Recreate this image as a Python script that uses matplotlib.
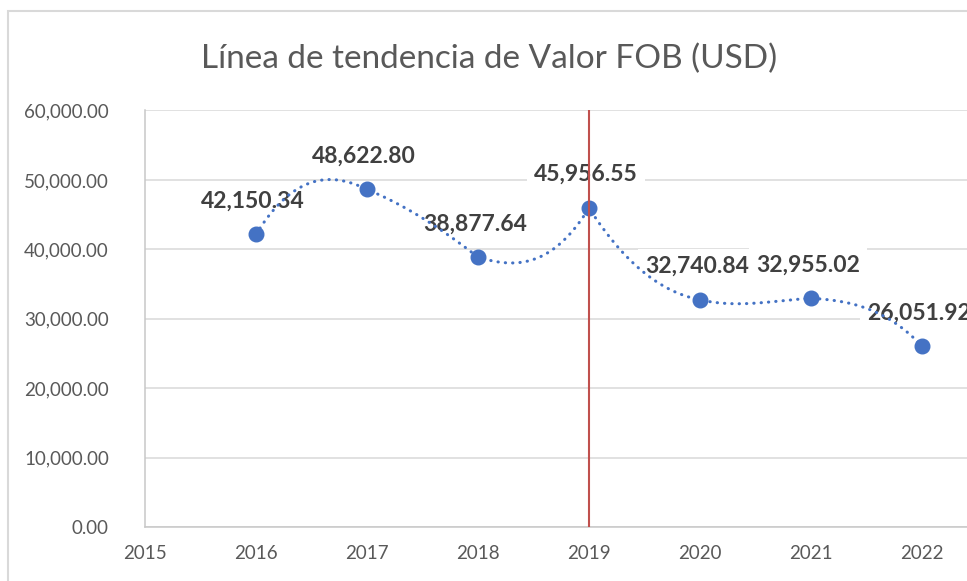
import matplotlib.pyplot as plt
import numpy as np
from matplotlib.patches import Rectangle
from matplotlib.ticker import FuncFormatter

# data
years = [2016, 2017, 2018, 2019, 2020, 2021, 2022]
fob_usd = [42150.34, 48622.80, 38877.64, 45956.55, 32740.84, 32955.02, 26051.92]
x_ticks = [2015, 2016, 2017, 2018, 2019, 2020, 2021, 2022]
y_ticks = [0, 10000, 20000, 30000, 40000, 50000, 60000]
marker_year = 2019
title = "Línea de tendencia de Valor FOB (USD)"

# slopes (USD per year) of the smoothed trend curve on each side of a point,
# estimated from the reference
slope_in = [np.nan, -8000, -12500, 26000, -3000, 1000, -17000]
slope_out = [26000, -6500, -5000, -25000, -3800, -1000, np.nan]

BLUE = '#4472C4'
GRAY_TXT = '#595959'
GRID = '#D9D9D9'


def smooth_curve(xs, ys, m_out, m_in, n=80):
    # cubic hermite between consecutive points
    cx, cy = [], []
    for i in range(len(xs) - 1):
        h = xs[i + 1] - xs[i]
        t = np.linspace(0, 1, n)
        h00 = 2 * t**3 - 3 * t**2 + 1
        h10 = t**3 - 2 * t**2 + t
        h01 = -2 * t**3 + 3 * t**2
        h11 = t**3 - t**2
        y = h00 * ys[i] + h10 * h * m_out[i] + h01 * ys[i + 1] + h11 * h * m_in[i + 1]
        cx.extend(xs[i] + t * h)
        cy.extend(y)
    return np.array(cx), np.array(cy)


plt.rcParams['font.family'] = ['Lato', 'DejaVu Sans']

fig = plt.figure(figsize=(9.67, 5.81), dpi=100)
ax = fig.add_axes([145 / 967, 54 / 581, 822 / 967, 416.5 / 581])

# outer chart border
fig.add_artist(Rectangle((8 / 967, -0.2), 1.2, 1.2 - 11 / 581, transform=fig.transFigure,
                         fill=False, edgecolor=GRID, linewidth=1.5))

fig.text(0.5062, 1 - 59 / 581, title, ha='center', va='center', fontsize=24, color=GRAY_TXT)

ax.set_xlim(2015, 2015 + 822 / 111)
ax.set_ylim(0, 60000)
ax.set_xticks(x_ticks)
ax.set_yticks(y_ticks)
ax.yaxis.set_major_formatter(FuncFormatter(lambda v, p: f"{v:,.2f}"))
ax.tick_params(length=0, labelsize=13.5, labelcolor=GRAY_TXT)
ax.tick_params(axis='y', pad=26)
ax.tick_params(axis='x', pad=13)
ax.grid(axis='y', color=GRID, linewidth=1.1, zorder=0)
ax.set_axisbelow(True)
for side in ['top', 'right']:
    ax.spines[side].set_visible(False)
ax.spines['left'].set_color('#C8C8C8')
ax.spines['bottom'].set_color('#C8C8C8')
ax.spines['left'].set_linewidth(1.1)
ax.spines['bottom'].set_linewidth(1.1)

cx, cy = smooth_curve(years, fob_usd, slope_out, slope_in)
ax.plot(cx, cy, color=BLUE, linewidth=2.2, linestyle=(0, (0.1, 2.3)),
        dash_capstyle='round', zorder=3)
ax.plot(years, fob_usd, 'o', color=BLUE, markersize=10.5, zorder=4)

for x, y in zip(years, fob_usd):
    ax.annotate(f"{y:,.2f}", (x, y), xytext=(-2, 24), textcoords='offset points',
                ha='center', va='center', fontsize=16.5, fontweight='bold', color='#404040',
                bbox=dict(boxstyle='square,pad=0.3', fc='white', ec='none'), zorder=2,
                annotation_clip=False)

ax.axvline(marker_year, color='#C0504D', linewidth=1.5, zorder=5)

fig.savefig('out.png', dpi=100)
